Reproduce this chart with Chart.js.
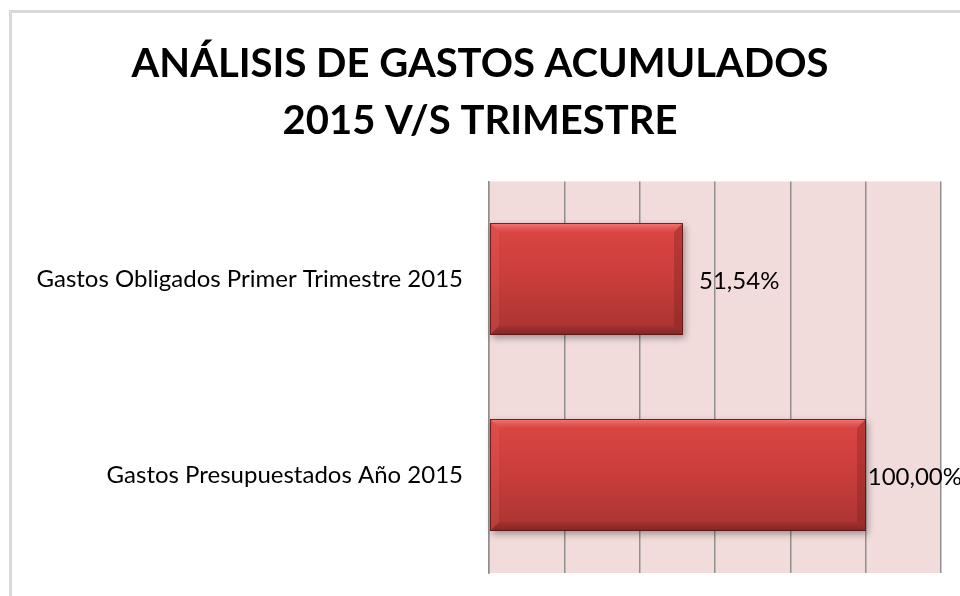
<!DOCTYPE html>
<html>
<head>
<meta charset="utf-8">
<script src="https://cdn.jsdelivr.net/npm/chart.js@4"></script>
<style>
  html, body { margin: 0; padding: 0; background: #fff; }
  #wrap { width: 960px; height: 596px; position: relative; }
</style>
</head>
<body>
<div id="wrap"><canvas id="gastos-chart"></canvas></div>
<script>
var titleLines = ['ANÁLISIS DE GASTOS ACUMULADOS', '2015 V/S TRIMESTRE'];
var categories = ['Gastos Obligados Primer Trimestre 2015', 'Gastos Presupuestados Año 2015'];
var porcentajes = [51.54, 100.00];
var etiquetas = ['51,54%', '100,00%'];
var axisMax = 120;
var axisStep = 20;

var FONT = 'Lato, Carlito, Calibri, sans-serif';

// white page with the grey frame of the chart object
var framePlugin = {
  id: 'frame',
  beforeDraw: function (chart) {
    var ctx = chart.ctx;
    ctx.save();
    ctx.fillStyle = '#ffffff';
    ctx.fillRect(0, 0, chart.width, chart.height);
    ctx.strokeStyle = '#d9d9d9';
    ctx.lineWidth = 3;
    ctx.strokeRect(10.5, 11.5, chart.width + 20, chart.height + 20);
    var a = chart.chartArea;
    ctx.fillStyle = '#f2dcdb';
    ctx.fillRect(a.left, a.top, a.right - a.left, a.bottom - a.top);
    ctx.restore();
  }
};

// bevelled red bars + value labels
var bevelPlugin = {
  id: 'bevel',
  afterDatasetsDraw: function (chart) {
    var ctx = chart.ctx;
    var meta = chart.getDatasetMeta(0);
    meta.data.forEach(function (bar, i) {
      var p = bar.getProps(['x', 'y', 'base', 'height'], true);
      var l = Math.round(p.base), r = Math.round(p.x);
      var t = Math.round(p.y - p.height / 2), b = Math.round(p.y + p.height / 2);
      var w = r - l, h = b - t, bv = 9;

      ctx.save();
      var g = ctx.createLinearGradient(0, t, 0, b);
      g.addColorStop(0, '#dc4644');
      g.addColorStop(0.5, '#c93d3b');
      g.addColorStop(1, '#a83331');
      ctx.shadowColor = 'rgba(0,0,0,0.35)';
      ctx.shadowBlur = 7;
      ctx.shadowOffsetX = 2;
      ctx.shadowOffsetY = 3;
      ctx.fillStyle = g;
      ctx.fillRect(l, t, w, h);
      ctx.restore();

      ctx.save();
      // top bevel
      var gt = ctx.createLinearGradient(0, t, 0, t + bv);
      gt.addColorStop(0, '#f47b77');
      gt.addColorStop(1, 'rgba(230,90,86,0.2)');
      ctx.fillStyle = gt;
      ctx.beginPath();
      ctx.moveTo(l, t); ctx.lineTo(r, t); ctx.lineTo(r - bv, t + bv); ctx.lineTo(l + bv, t + bv);
      ctx.closePath(); ctx.fill();
      // bottom bevel
      var gb = ctx.createLinearGradient(0, b - bv, 0, b);
      gb.addColorStop(0, 'rgba(140,40,38,0.3)');
      gb.addColorStop(1, '#7e2624');
      ctx.fillStyle = gb;
      ctx.beginPath();
      ctx.moveTo(l, b); ctx.lineTo(r, b); ctx.lineTo(r - bv, b - bv); ctx.lineTo(l + bv, b - bv);
      ctx.closePath(); ctx.fill();
      // left bevel
      ctx.fillStyle = 'rgba(240,110,106,0.2)';
      ctx.beginPath();
      ctx.moveTo(l, t); ctx.lineTo(l + bv, t + bv); ctx.lineTo(l + bv, b - bv); ctx.lineTo(l, b);
      ctx.closePath(); ctx.fill();
      // right bevel
      ctx.fillStyle = 'rgba(110,30,28,0.3)';
      ctx.beginPath();
      ctx.moveTo(r, t); ctx.lineTo(r - bv, t + bv); ctx.lineTo(r - bv, b - bv); ctx.lineTo(r, b);
      ctx.closePath(); ctx.fill();
      // outline
      ctx.strokeStyle = 'rgba(90,22,20,0.85)';
      ctx.lineWidth = 1;
      ctx.strokeRect(l + 0.5, t + 0.5, w - 1, h - 1);
      ctx.restore();

      // value label, outside end (pushed back if it would leave the canvas)
      ctx.save();
      ctx.font = '24px ' + FONT;
      ctx.fillStyle = '#000';
      ctx.textBaseline = 'middle';
      var txt = etiquetas[i];
      var tw = ctx.measureText(txt).width;
      var lx = Math.min(r + 16, chart.width - tw + 2);
      ctx.fillText(txt, lx, p.y + 2);
      ctx.restore();
    });
  }
};

var chart = new Chart(document.getElementById('gastos-chart'), {
  type: 'bar',
  data: {
    labels: categories,
    datasets: [{
      data: porcentajes,
      backgroundColor: 'rgba(0,0,0,0)',
      borderWidth: 0,
      barPercentage: 0.573,
      categoryPercentage: 1.0
    }]
  },
  options: {
    indexAxis: 'y',
    responsive: true,
    maintainAspectRatio: false,
    animation: false,
    layout: { padding: { left: 19, right: 19, top: 0, bottom: 23 } },
    plugins: {
      legend: { display: false },
      tooltip: { enabled: false },
      title: {
        display: true,
        text: titleLines,
        color: '#000',
        font: { family: FONT, size: 40, weight: 'bold', lineHeight: 1.43 },
        padding: { top: 35, bottom: 32 }
      }
    },
    scales: {
      x: {
        min: 0,
        max: axisMax,
        ticks: { display: false, stepSize: axisStep },
        grid: { color: '#8f8f8f', lineWidth: 1.5, drawTicks: false },
        border: { display: false },
        afterFit: function (scale) { scale.height = 0; }
      },
      y: {
        ticks: {
          color: '#000',
          font: { family: FONT, size: 24 },
          padding: 26
        },
        grid: { display: false, drawTicks: false },
        border: { display: true, color: '#8f8f8f', width: 1.5 },
        afterFit: function (scale) {
          scale.width = 470;
          scale.paddingTop = 0;
          scale.paddingBottom = 0;
        }
      }
    }
  },
  plugins: [framePlugin, bevelPlugin]
});
</script>
</body>
</html>
